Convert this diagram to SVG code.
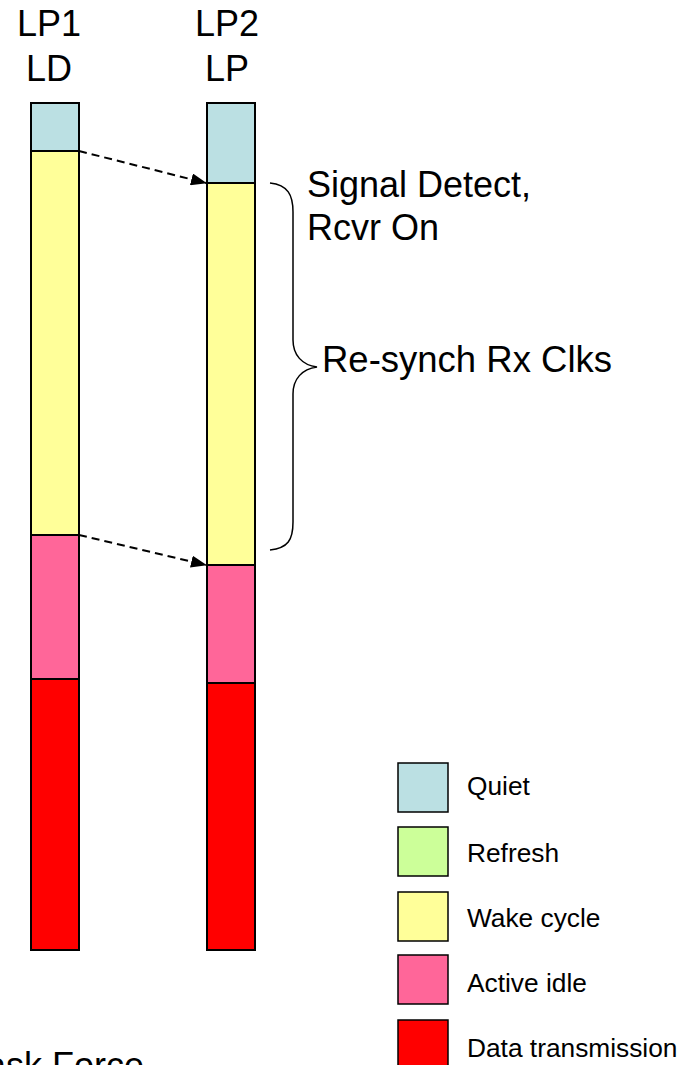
<svg xmlns="http://www.w3.org/2000/svg" width="685" height="1065" viewBox="0 0 685 1065">
<defs>
<style>
text{font-family:"Liberation Sans",Arial,sans-serif;fill:#000}
.big{font-size:36px}
.wide{font-size:36.5px}
.leg{font-size:26.3px}
.seg{stroke:#000;stroke-width:2}
.lb{stroke:#000;stroke-width:1.5}
.quiet{fill:#BBE0E3}
.refresh{fill:#CCFF99}
.wake{fill:#FFFF99}
.active{fill:#FF6699}
.data{fill:#FF0000}
.conn{stroke:#000;stroke-width:2;stroke-dasharray:8,5;fill:none}
</style>
<marker id="ah" markerWidth="16" markerHeight="12" refX="15" refY="6" orient="auto" markerUnits="userSpaceOnUse">
<path d="M0,0 L16,6 L0,12 Z" fill="#000"/>
</marker>
</defs>
<rect width="685" height="1065" fill="#fff"/>
<g id="lp1">
<text class="big" x="49" y="36" text-anchor="middle">LP1</text>
<text class="big" x="49" y="81" text-anchor="middle">LD</text>
<rect class="seg quiet" x="31" y="103" width="48" height="48"/>
<rect class="seg wake" x="31" y="151" width="48" height="384"/>
<rect class="seg active" x="31" y="535" width="48" height="144"/>
<rect class="seg data" x="31" y="679" width="48" height="271"/>
</g>
<g id="lp2">
<text class="big" x="227" y="36" text-anchor="middle">LP2</text>
<text class="big" x="227" y="81" text-anchor="middle">LP</text>
<rect class="seg quiet" x="207" y="103" width="48" height="80"/>
<rect class="seg wake" x="207" y="183" width="48" height="382"/>
<rect class="seg active" x="207" y="565" width="48" height="118"/>
<rect class="seg data" x="207" y="683" width="48" height="267"/>
</g>
<g id="connectors">
<line class="conn" x1="79" y1="151" x2="206" y2="183" marker-end="url(#ah)"/>
<line class="conn" x1="79" y1="535" x2="206" y2="565" marker-end="url(#ah)"/>
</g>
<g id="brace">
<path d="M270,183 C288,185 293,195 293,212 L293,340 C293,355 302,365 317,367 C302,369 293,379 293,394 L293,522 C293,540 288,548 270,550" fill="none" stroke="#000" stroke-width="1.5"/>
<text class="big" x="307" y="197">Signal Detect,</text>
<text class="big" x="307" y="240">Rcvr On</text>
<text class="wide" x="322" y="372">Re-synch Rx Clks</text>
</g>
<g id="legend">
<rect class="lb quiet" x="398" y="763" width="50" height="49"/>
<text class="leg" x="467" y="795">Quiet</text>
<rect class="lb refresh" x="398" y="827" width="50" height="49"/>
<text class="leg" x="467" y="862">Refresh</text>
<rect class="lb wake" x="398" y="892" width="50" height="49"/>
<text class="leg" x="467" y="927">Wake cycle</text>
<rect class="lb active" x="398" y="955" width="50" height="49"/>
<text class="leg" x="467" y="992">Active idle</text>
<rect class="lb data" x="398" y="1020" width="50" height="49"/>
<text class="leg" x="467" y="1057">Data transmission</text>
</g>
<text class="big" x="-14" y="1078">ask Force</text>
</svg>
